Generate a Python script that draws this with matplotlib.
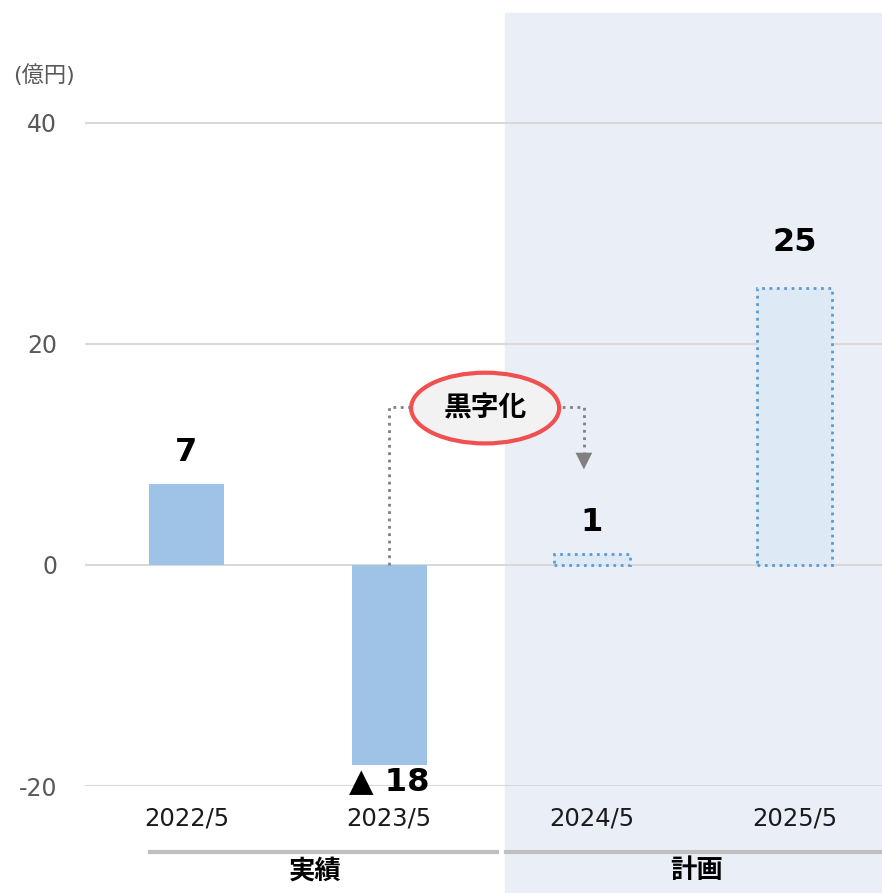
import matplotlib.pyplot as plt
from matplotlib.patches import Ellipse, Rectangle

plt.rcParams['font.family'] = ['DejaVu Sans', 'Noto Sans CJK JP']
plt.rcParams['axes.unicode_minus'] = False

# データ
years = ['2022/5', '2023/5', '2024/5', '2025/5']
values = [7.3, -18.1, 1.0, 25.1]
labels = ['7', '▲ 18', '1', '25']
is_plan = [False, False, True, True]
groups = ['実績', '計画']
yticks = [-20, 0, 20, 40]

# ラベルのずらし量 (pt)
label_offset = [23, -12, 22.5, 32.5]

W, H = 882, 893
fig = plt.figure(figsize=(W / 100, H / 100), dpi=100)

ax = fig.add_axes([85 / W, (H - 786) / H, (W - 85) / W, (786 - 13) / H])
ax.set_zorder(2)
ax.patch.set_alpha(0)
ax.set_xlim(-0.5, 3.43)
ax.set_ylim(-20, 49.95)
for s in ax.spines.values():
    s.set_visible(False)
ax.set_yticks(yticks)
ax.tick_params(axis='y', length=0, pad=20, labelsize=17, labelcolor='#595959')
ax.set_xticks([])
for y in yticks:
    ax.axhline(y, color='#d9d9d9', lw=1.5, zorder=1)

# 計画エリアの背景
fig.patches.append(Rectangle((505 / W, 0), (W - 505) / W, (H - 13) / H,
                             transform=fig.transFigure, color='#eaeef7', zorder=0))

for i, v in enumerate(values):
    if is_plan[i]:
        ax.bar(i, v, width=0.37, color='#dde9f5', edgecolor='#5b9bd5',
               linestyle=':', linewidth=2, zorder=3)
    else:
        ax.bar(i, v, width=0.37, color='#9fc3e6', zorder=3)
    ax.annotate(labels[i], (i, v), xytext=(0, label_offset[i]), textcoords='offset points',
                ha='center', va='center', fontsize=23, fontweight='bold')
    ax.text(i, -22.9, years[i], ha='center', va='center', fontsize=17.5,
            color='#1a1a1a', clip_on=False)

# 実績 / 計画 のグループ
fig.add_artist(plt.Line2D([150 / W, 497 / W], [1 - 852 / H] * 2, color='#bfbfbf', lw=3))
fig.add_artist(plt.Line2D([506 / W, 882 / W], [1 - 852 / H] * 2, color='#bfbfbf', lw=3))
fig.text(315 / W, 1 - 871 / H, groups[0], ha='center', va='center', fontsize=19, fontweight='bold',
         family='Noto Sans CJK JP')
fig.text(697 / W, 1 - 871 / H, groups[1], ha='center', va='center', fontsize=19, fontweight='bold',
         family='Noto Sans CJK JP')

# 単位
fig.text(13 / W, 1 - 75 / H, '(億円)', ha='left', va='center', fontsize=16, color='#595959')

# 黒字化の矢印
ax.plot([1, 1, 1.96, 1.96], [0, 14.3, 14.3, 10.2], color='#808080', ls=':', lw=2, zorder=4)
ax.annotate('', xy=(1.96, 8.4), xytext=(1.96, 10.4),
            arrowprops=dict(arrowstyle='-|>', color='#808080', lw=0, mutation_scale=30), zorder=4)
ax.add_patch(Ellipse((1.473, 14.2), 0.73, 6.4, facecolor='#f2f2f2', edgecolor='#f05050',
                     lw=3, zorder=5))
ax.text(1.473, 14.2, '黒字化', ha='center', va='center', fontsize=20, fontweight='bold', zorder=6,
        family='Noto Sans CJK JP')

plt.savefig('out.png', dpi=100)
